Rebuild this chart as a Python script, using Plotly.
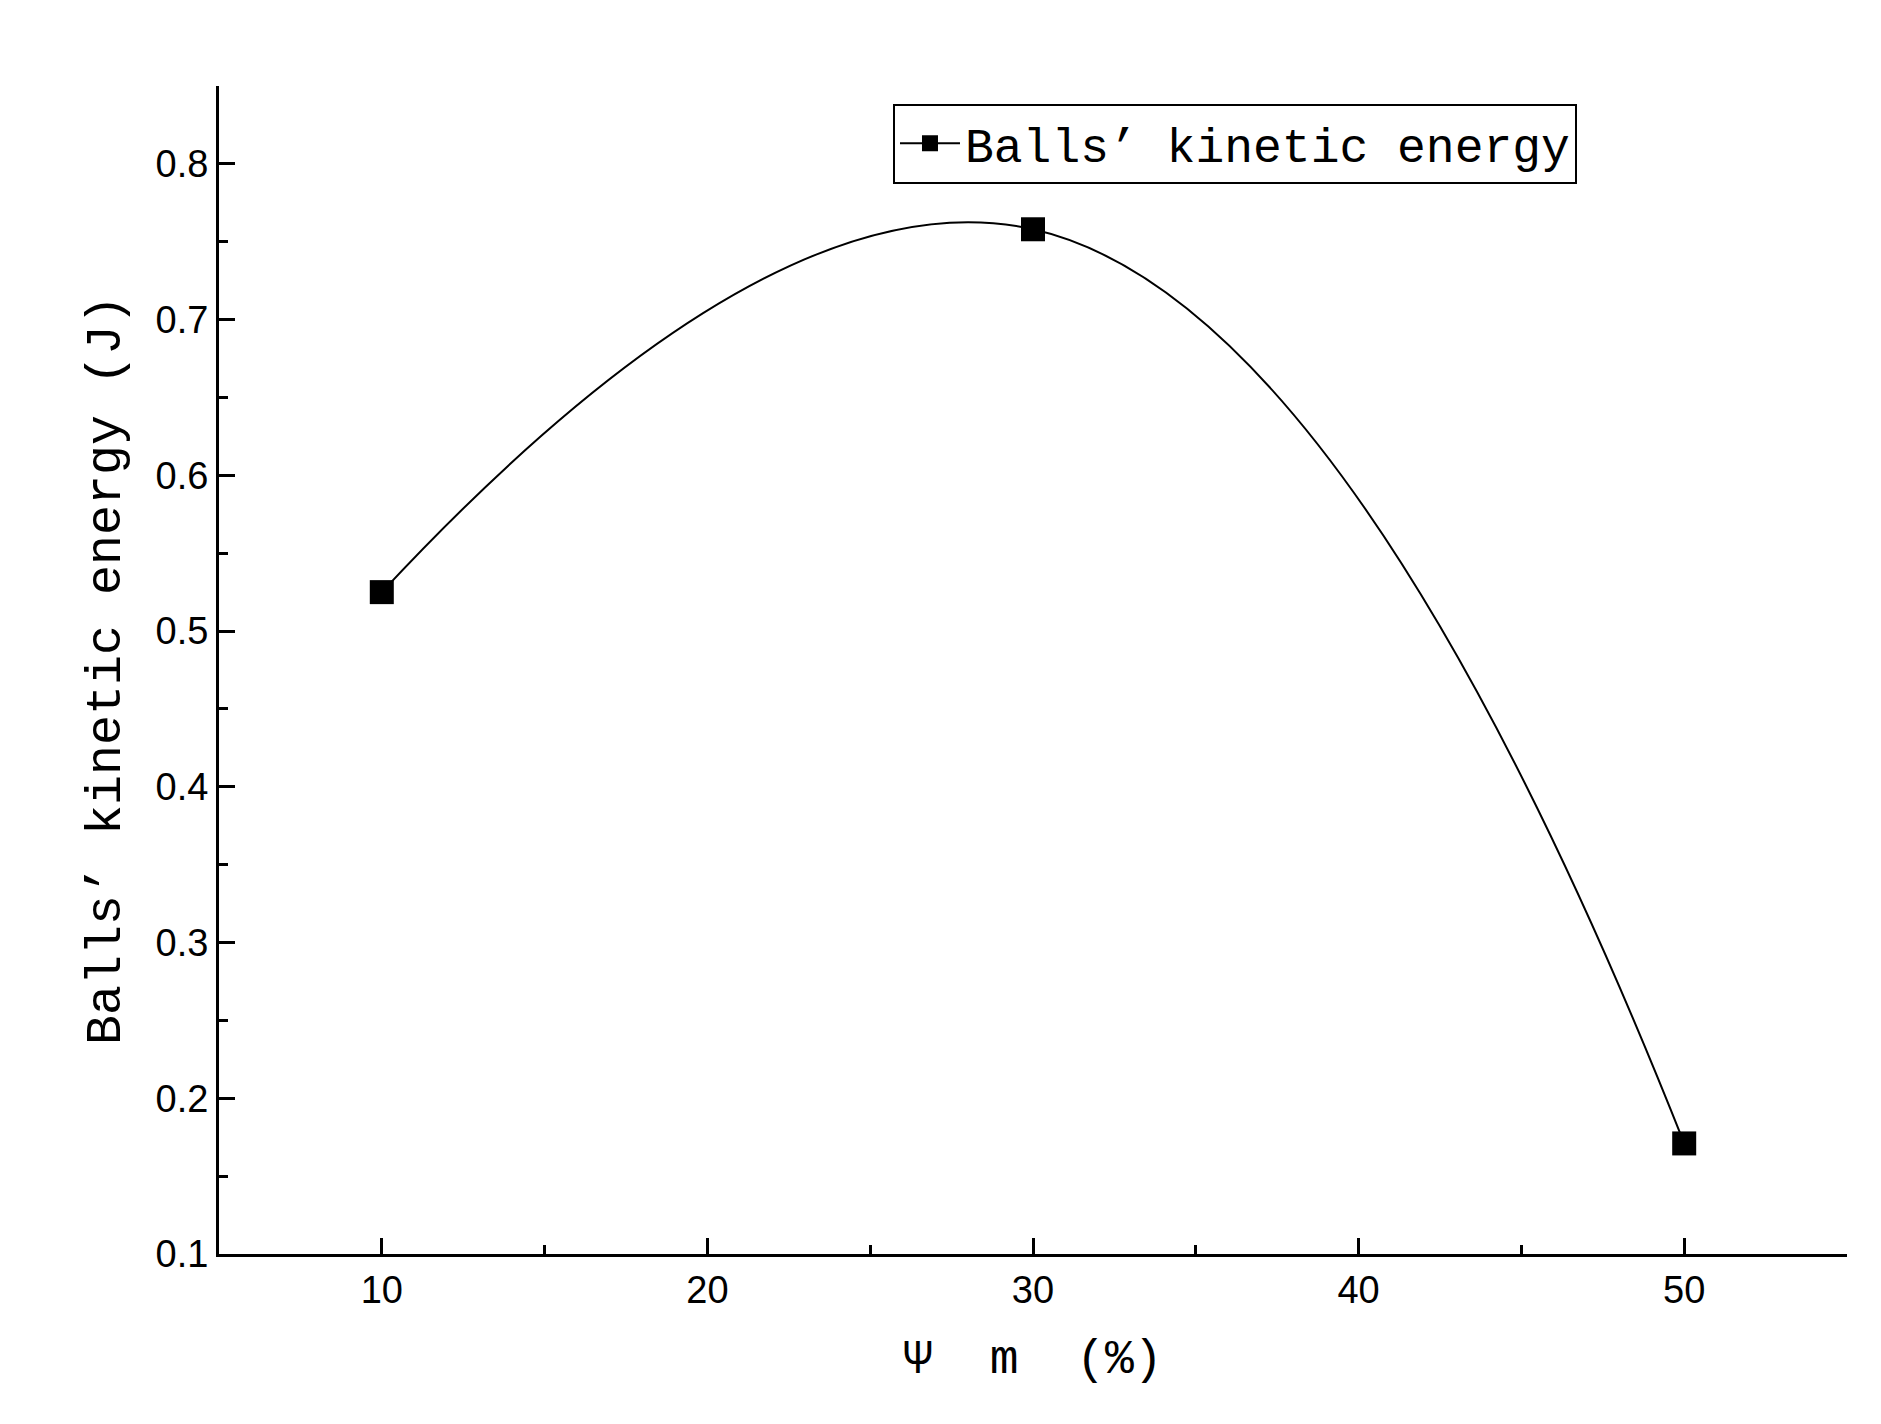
import plotly.graph_objects as go

psi_m = [10, 30, 50]
kinetic_energy = [0.525, 0.758, 0.171]

fig = go.Figure()
fig.add_trace(
    go.Scatter(
        x=psi_m,
        y=kinetic_energy,
        mode="lines+markers",
        name="Balls’ kinetic energy",
        showlegend=True,
        line=dict(color="black", width=2, shape="spline", smoothing=1.3),
        marker=dict(symbol="square", size=24, color="black"),
    )
)

axis_common = dict(
    showline=True,
    linecolor="black",
    linewidth=3,
    ticks="inside",
    ticklen=16,
    tickwidth=3,
    tickcolor="black",
    showgrid=False,
    zeroline=False,
    tickfont=dict(family="Liberation Sans", size=38, color="black"),
    minor=dict(ticks="inside", ticklen=9, tickwidth=3, tickcolor="black"),
)

fig.update_xaxes(
    range=[5, 55], tick0=10, dtick=10, minor_dtick=5,
    title=dict(text="Ψ  m  (%)", font=dict(family="Liberation Mono", size=48, color="black"), standoff=30),
    **axis_common,
)
fig.update_yaxes(
    range=[0.1, 0.85], tick0=0.1, dtick=0.1, minor_dtick=0.05, tickformat=".1f",
    title=dict(text="Balls’ kinetic energy (J)", font=dict(family="Liberation Mono", size=50, color="black"), standoff=20),
    **axis_common,
)

fig.update_layout(
    width=1881,
    height=1424,
    paper_bgcolor="white",
    plot_bgcolor="white",
    margin=dict(l=211, r=42, t=78, b=178),
    legend=dict(
        x=0.414, y=0.985, xanchor="left", yanchor="top",
        bordercolor="black", borderwidth=2, bgcolor="white",
        font=dict(family="Liberation Mono", size=48, color="black"),
        itemwidth=60,
    ),
)

fig.write_html("out.html")
